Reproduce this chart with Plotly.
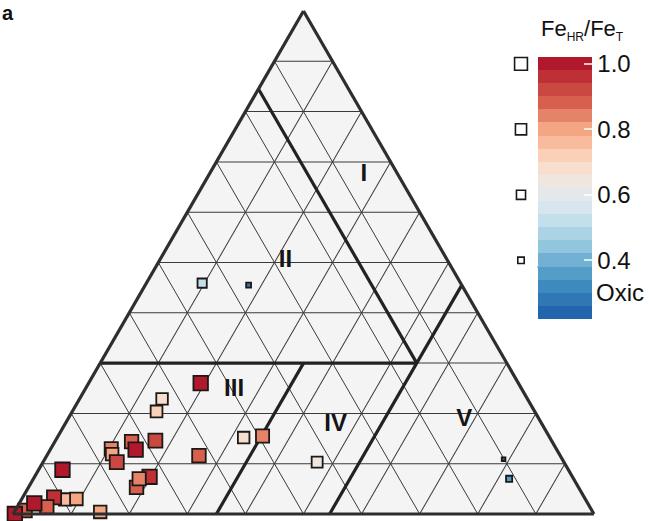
import numpy as np
import plotly.graph_objects as go

W, H = 649, 521

# Sample compositions as ternary fractions (a = apex, b = lower left, c = lower right)
a_frac = [0.459, 0.455, 0.260, 0.229, 0.204, 0.152, 0.155, 0.103, 0.144, 0.128,
          0.146, 0.130, 0.119, 0.103, 0.116, 0.088, 0.074, 0.053, 0.070, 0.029,
          0.033, 0.030, 0.014, 0.007, 0.021, 0.000, 0.004, 0.109, 0.070]
b_frac = [0.445, 0.367, 0.547, 0.629, 0.651, 0.527, 0.493, 0.425, 0.724, 0.725,
          0.682, 0.766, 0.770, 0.770, 0.622, 0.871, 0.728, 0.761, 0.748, 0.896,
          0.913, 0.876, 0.935, 0.976, 0.953, 0.997, 0.848, 0.101, 0.111]
c_frac = [0.096, 0.178, 0.193, 0.142, 0.145, 0.321, 0.352, 0.472, 0.132, 0.147,
          0.172, 0.104, 0.111, 0.127, 0.262, 0.041, 0.198, 0.186, 0.182, 0.075,
          0.054, 0.094, 0.051, 0.017, 0.026, 0.003, 0.148, 0.790, 0.819]
# Fe_HR / Fe_T of each sample
fe_ratio = [0.52, 0.29, 0.99, 0.70, 0.72, 0.70, 0.85, 0.65, 0.88, 0.99,
            0.93, 0.85, 0.80, 0.94, 0.89, 0.99, 0.98, 0.89, 0.86, 0.77,
            0.95, 0.80, 0.89, 0.90, 0.99, 0.99, 0.79, 0.25, 0.34]

# Field boundaries (a, b, c) vertex lists
bound_I_II = [(0.845, 0.155, 0.0), (0.30, 0.155, 0.545)]
bound_II_III = [(0.30, 0.70, 0.0), (0.30, 0.155, 0.545)]
bound_IV_V = [(0.0, 0.455, 0.545), (0.455, 0.0, 0.545)]
bound_III_IV = [(0.0, 0.65, 0.35), (0.30, 0.35, 0.35)]

field_names = ["I", "II", "III", "IV", "V"]
field_a = [0.674, 0.502, 0.247, 0.177, 0.186]
field_b = [0.059, 0.280, 0.496, 0.356, 0.130]
field_c = [0.267, 0.218, 0.257, 0.467, 0.684]

# Colour bar
cbar_ticks = [0.4, 0.6, 0.8, 1.0]
cbar_ticktext = ["0.4", "0.6", "0.8", "1.0"]
oxic_limit = 0.38
CMIN, CMAX, NBANDS = 0.22, 1.02, 20

anchor_v = [0.24, 0.34, 0.44, 0.54, 0.62, 0.70, 0.80, 0.88, 1.00]
anchor_rgb = [(33, 102, 172), (67, 147, 195), (146, 197, 222), (209, 229, 240),
              (234, 233, 233), (253, 219, 199), (244, 165, 130), (214, 96, 77),
              (178, 24, 43)]

FONT = "Liberation Sans, Arial, sans-serif"


def band_colors():
    centers = CMIN + (np.arange(NBANDS) + 0.5) * (CMAX - CMIN) / NBANDS
    arr = np.array(anchor_rgb, dtype=float)
    cols = []
    for v in centers:
        r, g, b = (np.interp(v, anchor_v, arr[:, k]) for k in range(3))
        cols.append(f"rgb({int(round(r))},{int(round(g))},{int(round(b))})")
    return cols


def discrete_scale(cols):
    edges = np.linspace(0, 1, len(cols) + 1)
    scale = []
    for i, col in enumerate(cols):
        scale.append([float(edges[i]), col])
        scale.append([float(edges[i + 1]), col])
    return scale


def marker_px(v, scale=1.0):
    v = np.asarray(v, dtype=float)
    return scale * 14.6 * np.sqrt(np.clip((v - 0.2) / 0.8, 0.0, None))


colorscale = discrete_scale(band_colors())

# colour-bar geometry (pixels from top of page)
CB_TOP, CB_BOT = 57.3, 319.3
CB_LEFT, CB_RIGHT = 537.7, 591.7
cb_len = (CB_BOT - CB_TOP) / H
cb_ymid = 1 - (CB_TOP + CB_BOT) / 2 / H
cb_ybot = 1 - CB_BOT / H


def cb_y(v):
    return cb_ybot + (v - CMIN) / (CMAX - CMIN) * cb_len


fig = go.Figure()

# field boundaries
for seg in (bound_I_II, bound_II_III, bound_IV_V, bound_III_IV):
    fig.add_trace(go.Scatterternary(
        a=[p[0] for p in seg], b=[p[1] for p in seg], c=[p[2] for p in seg],
        mode="lines", line=dict(color="#222222", width=3.2),
        hoverinfo="skip", showlegend=False, cliponaxis=False))

# field labels
fig.add_trace(go.Scatterternary(
    a=field_a, b=field_b, c=field_c, mode="text",
    text=[f"<b>{t}</b>" for t in field_names],
    textfont=dict(family=FONT, size=24, color="#151515"),
    textposition="middle center", hoverinfo="skip", showlegend=False))

# samples
fig.add_trace(go.Scatterternary(
    a=a_frac, b=b_frac, c=c_frac, mode="markers",
    marker=dict(
        symbol="square", size=marker_px(fe_ratio), color=fe_ratio, opacity=1,
        colorscale=colorscale, cmin=CMIN, cmax=CMAX,
        line=dict(color="#1c1816", width=1.8),
        showscale=True,
        colorbar=dict(
            x=CB_LEFT / W, xanchor="left", xpad=0, ypad=0,
            y=cb_ymid, yanchor="middle", len=cb_len, lenmode="fraction",
            thickness=CB_RIGHT - CB_LEFT, outlinewidth=0,
            tickmode="array", tickvals=cbar_ticks, ticktext=cbar_ticktext,
            ticks="inside", ticklen=8, tickwidth=1.5,
            tickcolor="rgba(255,255,255,0.75)",
            tickfont=dict(family=FONT, size=24, color="#111111"),
        ),
    ),
    hoverinfo="skip", showlegend=False, cliponaxis=False))

# size key next to the colour bar
fig.add_trace(go.Scatter(
    x=[521 / W] * len(cbar_ticks), y=[cb_y(v) for v in cbar_ticks],
    mode="markers", xaxis="x", yaxis="y",
    marker=dict(symbol="square", size=marker_px(cbar_ticks, 0.88), color="white",
                opacity=1, line=dict(color="#1c1816", width=1.6)),
    hoverinfo="skip", showlegend=False, cliponaxis=False))

shapes = []
# left-hand white tick dashes on the bar
for v in cbar_ticks:
    shapes.append(dict(type="line", xref="paper", yref="paper",
                       x0=CB_LEFT / W, x1=(CB_LEFT + 8) / W, y0=cb_y(v), y1=cb_y(v),
                       line=dict(color="rgba(255,255,255,0.75)", width=1.5)))
# oxic threshold
shapes.append(dict(type="line", xref="paper", yref="paper",
                   x0=CB_LEFT / W, x1=CB_RIGHT / W, y0=cb_y(oxic_limit), y1=cb_y(oxic_limit),
                   line=dict(color="#111111", width=1.5, dash="dash")))

axis_style = dict(showticklabels=False, ticks="", showgrid=True,
                  gridcolor="#3a3a3a", gridwidth=1, tick0=0, dtick=0.1,
                  linecolor="#2e2e2e", linewidth=3.2, min=0,
                  title=dict(text=""))

title_html = ("Fe<sub><span style='font-size:12px'>HR</span></sub>/"
              "Fe<sub><span style='font-size:12px'>T</span></sub>")

fig.update_layout(
    width=W, height=H, margin=dict(l=0, r=0, t=0, b=0),
    paper_bgcolor="white", plot_bgcolor="rgba(0,0,0,0)",
    font=dict(family=FONT, color="#111111"),
    ternary=dict(
        sum=1, bgcolor="#f4f4f4",
        domain=dict(x=[13 / W, 594 / W], y=[1 - 514 / H, 1 - 11 / H]),
        aaxis=axis_style, baxis=axis_style, caxis=axis_style,
    ),
    xaxis=dict(visible=False, range=[0, 1], domain=[0, 1], fixedrange=True),
    yaxis=dict(visible=False, range=[0, 1], domain=[0, 1], fixedrange=True),
    shapes=shapes,
    annotations=[
        dict(text=title_html, xref="paper", yref="paper",
             x=539 / W, y=1 - 30 / H, xanchor="left", yanchor="middle",
             showarrow=False, font=dict(family=FONT, size=22, color="#111111")),
        dict(text="Oxic", xref="paper", yref="paper",
             x=594 / W, y=1 - 292 / H, xanchor="left", yanchor="middle",
             showarrow=False, font=dict(family=FONT, size=24, color="#111111")),
        dict(text="<b>a</b>", xref="paper", yref="paper",
             x=0, y=1, xanchor="left", yanchor="top",
             showarrow=False, font=dict(family=FONT, size=20, color="#111111")),
    ],
)

fig.write_html("out.html")
